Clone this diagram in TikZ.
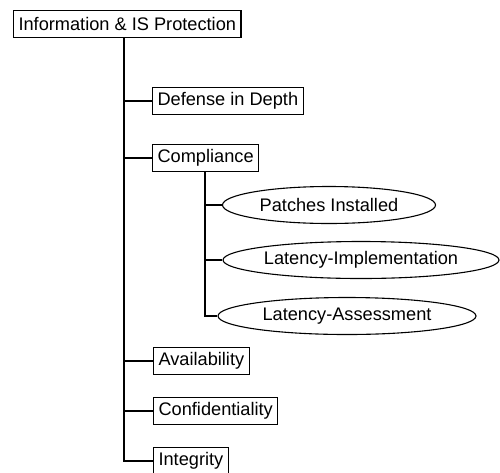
\documentclass[tikz,border=0pt]{standalone}
\usepackage{fontspec}
\setmainfont{Liberation Sans}
\usepackage{tikz}
\usetikzlibrary{shapes.geometric, positioning, calc}

\begin{document}
\begin{tikzpicture}[x=1pt, y=-1pt, line width=1.1pt,
    font=\fontsize{18.2}{20}\selectfont,
    topicbox/.style={draw, rectangle, anchor=west, inner xsep=5pt, inner ysep=0pt,
                     minimum height=27pt},
    metric/.style={draw, ellipse, inner sep=0pt, minimum height=37pt}]
    \useasboundingbox (0, 0) rectangle (500, 472);

    % Root
    \node[topicbox] (root) at (13, 24) {Information \& IS Protection};
    \coordinate (spine) at (124, 38);

    % First level
    \node[topicbox] (defense) at (152, 101) {Defense in Depth};
    \node[topicbox] (compliance) at (152, 158) {Compliance};
    \node[topicbox] (availability) at (153, 361) {Availability};
    \node[topicbox] (confidentiality) at (153, 411) {Confidentiality};
    \node[topicbox] (integrity) at (153, 461) {Integrity};

    % Compliance metrics
    \node[metric, minimum width=213pt] (patches) at (329, 205) {Patches Installed};
    \node[metric, minimum width=276pt] (latimpl) at (361, 260) {Latency-Implementation};
    \node[metric, minimum width=258pt] (latassess) at (347, 316) {Latency-Assessment};
    \coordinate (subspine) at (205, 171);

    % Spine of the tree
    \draw (spine) |- (integrity.west);
    \foreach \n in {defense, compliance, availability, confidentiality}
        \draw (spine |- \n.west) -- (\n.west);

    % Spine under Compliance
    \draw (subspine) |- (latassess.west);
    \foreach \n in {patches, latimpl}
        \draw (subspine |- \n.west) -- (\n.west);
\end{tikzpicture}
\end{document}
